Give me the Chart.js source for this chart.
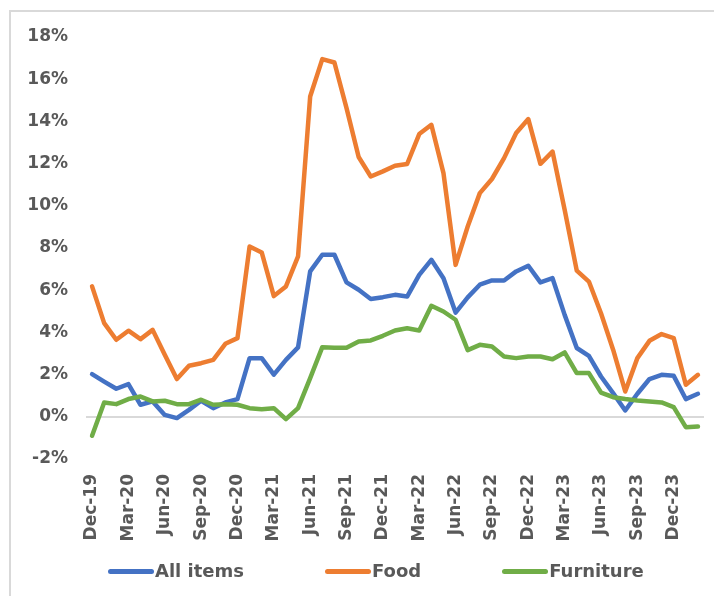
<!DOCTYPE html>
<html>
<head>
<meta charset="utf-8">
<script src="https://cdn.jsdelivr.net/npm/chart.js@4/dist/chart.umd.min.js"></script>
<style>
  html, body { margin: 0; padding: 0; background: #ffffff; }
  body { width: 714px; height: 596px; position: relative; overflow: hidden; }
  #frame {
    position: absolute; left: 9px; top: 10px; width: 760px; height: 640px;
    border-left: 2px solid #d9d9d9; border-top: 2px solid #d9d9d9;
  }
  #chart { position: absolute; left: 0; top: 0; }
  #legend {
    position: absolute; left: 108px; top: 560px;
    display: flex; align-items: center; gap: 81px;
    font: bold 18px "DejaVu Sans", sans-serif; color: #595959; line-height: 22px;
  }
  #legend .item { display: flex; align-items: center; }
  #legend .swatch { display: inline-block; width: 46px; height: 5px; border-radius: 3px; margin-right: 1px; }
</style>
</head>
<body>
<div id="frame"></div>
<canvas id="chart" width="714" height="596"></canvas>
<div id="legend"></div>
<script>
// Monthly year-over-year price change, Dec-19 to Feb-24 (%)
const months = [
  'Dec-19','Jan-20','Feb-20','Mar-20','Apr-20','May-20','Jun-20','Jul-20','Aug-20','Sep-20','Oct-20','Nov-20',
  'Dec-20','Jan-21','Feb-21','Mar-21','Apr-21','May-21','Jun-21','Jul-21','Aug-21','Sep-21','Oct-21','Nov-21',
  'Dec-21','Jan-22','Feb-22','Mar-22','Apr-22','May-22','Jun-22','Jul-22','Aug-22','Sep-22','Oct-22','Nov-22',
  'Dec-22','Jan-23','Feb-23','Mar-23','Apr-23','May-23','Jun-23','Jul-23','Aug-23','Sep-23','Oct-23','Nov-23',
  'Dec-23','Jan-24','Feb-24'
];

const allItems = [
  2.02, 1.67, 1.33, 1.55, 0.57, 0.73, 0.09, -0.06, 0.33, 0.76, 0.41, 0.68,
  0.84, 2.78, 2.78, 2.00, 2.70, 3.29, 6.89, 7.68, 7.68, 6.37, 6.02, 5.58,
  5.67, 5.78, 5.70, 6.73, 7.44, 6.57, 4.94, 5.66, 6.26, 6.46, 6.46, 6.89,
  7.16, 6.37, 6.57, 4.83, 3.26, 2.89, 1.91, 1.12, 0.30, 1.09, 1.79, 1.99,
  1.94, 0.84, 1.09
];

const food = [
  6.18, 4.44, 3.65, 4.08, 3.68, 4.12, 2.94, 1.79, 2.42, 2.54, 2.70, 3.46,
  3.73, 8.07, 7.79, 5.72, 6.18, 7.60, 15.18, 16.95, 16.79, 14.63, 12.31, 11.39,
  11.63, 11.90, 11.98, 13.40, 13.84, 11.55, 7.20, 9.02, 10.60, 11.27, 12.26, 13.45,
  14.11, 11.99, 12.57, 9.81, 6.93, 6.41, 4.91, 3.18, 1.20, 2.78, 3.60, 3.92,
  3.73, 1.52, 1.99
];

const furniture = [
  -0.90, 0.68, 0.60, 0.84, 0.96, 0.73, 0.76, 0.60, 0.60, 0.81, 0.57, 0.60,
  0.57, 0.41, 0.36, 0.41, -0.11, 0.41, 1.83, 3.30, 3.27, 3.27, 3.57, 3.62,
  3.84, 4.09, 4.20, 4.09, 5.26, 4.99, 4.60, 3.16, 3.41, 3.33, 2.86, 2.78,
  2.86, 2.86, 2.73, 3.05, 2.07, 2.07, 1.15, 0.93, 0.84, 0.77, 0.73, 0.68,
  0.46, -0.49, -0.46
];

const seriesNames = ['All items', 'Food', 'Furniture'];
const seriesColors = ['#4472C4', '#ED7D31', '#70AD47'];

const tickFont = { family: '"DejaVu Sans", sans-serif', size: 17, weight: 'bold' };
const textColor = '#595959';

function lineSet(label, data, color, order) {
  return {
    label, data, order,
    borderColor: color, backgroundColor: color,
    borderWidth: 4.5, pointRadius: 0, tension: 0,
    borderCapStyle: 'round', borderJoinStyle: 'round'
  };
}

const chart = new Chart(document.getElementById('chart'), {
  type: 'line',
  data: {
    labels: months,
    datasets: [
      lineSet(seriesNames[0], allItems, seriesColors[0], 2),
      lineSet(seriesNames[1], food, seriesColors[1], 1),
      lineSet(seriesNames[2], furniture, seriesColors[2], 0)
    ]
  },
  options: {
    responsive: false,
    animation: false,
    devicePixelRatio: 1,
    layout: { padding: { left: 0, top: 37, right: 10, bottom: 0 } },
    plugins: { legend: { display: false }, tooltip: { enabled: false } },
    scales: {
      x: {
        offset: true,
        grid: { display: false, drawTicks: false },
        border: { display: false },
        ticks: {
          autoSkip: false, minRotation: 90, maxRotation: 90,
          padding: 15, color: textColor, font: tickFont,
          callback: function (value, index) {
            return index % 3 === 0 ? this.getLabelForValue(value) : '';
          }
        },
        afterFit: (scale) => {
          scale.height = 137;
          scale.paddingLeft = 0;
          scale.paddingRight = 0;
        }
      },
      y: {
        min: -2, max: 18,
        grid: {
          drawTicks: false,
          lineWidth: 2,
          color: (ctx) => (ctx.tick && ctx.tick.value === 0 ? '#d9d9d9' : 'rgba(0,0,0,0)')
        },
        border: { display: false },
        ticks: {
          stepSize: 2, padding: 18, color: textColor, font: tickFont,
          callback: (v) => v + '%'
        },
        afterFit: (scale) => { scale.width = 86; }
      }
    }
  }
});

// Legend built from the chart's own datasets
const legendEl = document.getElementById('legend');
chart.data.datasets.forEach((ds) => {
  const item = document.createElement('div');
  item.className = 'item';
  const sw = document.createElement('span');
  sw.className = 'swatch';
  sw.style.background = ds.borderColor;
  const tx = document.createElement('span');
  tx.textContent = ds.label;
  item.appendChild(sw);
  item.appendChild(tx);
  legendEl.appendChild(item);
});
</script>
</body>
</html>
